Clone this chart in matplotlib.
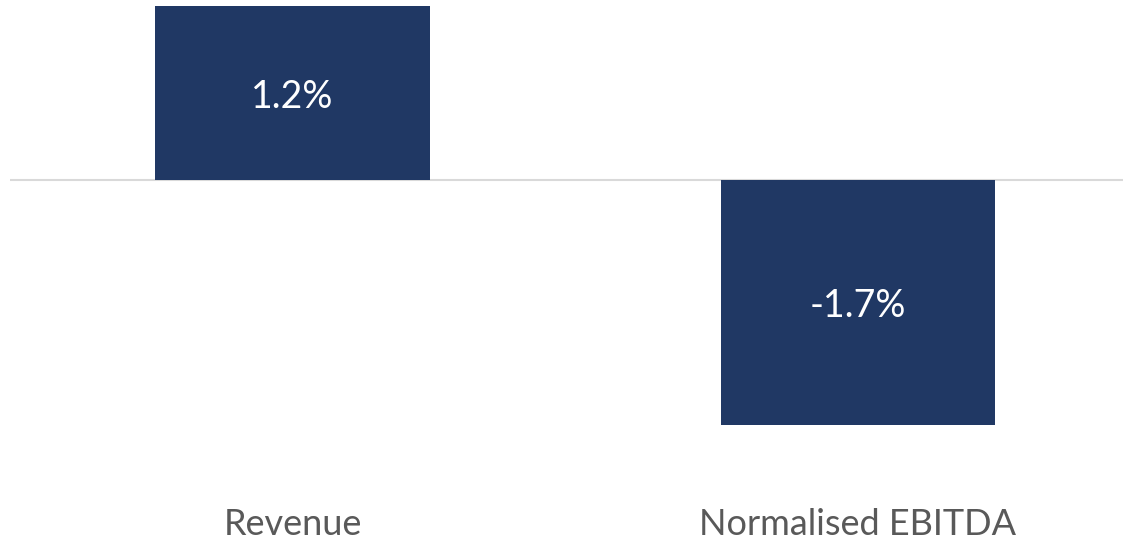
import matplotlib.pyplot as plt

categories = ["Revenue", "Normalised EBITDA"]
growth_pct = [1.2, -1.7]
value_labels = ["1.2%", "-1.7%"]

BAR_COLOR = "#203864"
TEXT_GREY = "#595959"

fig = plt.figure(figsize=(11.23, 5.41), dpi=100)
ax = fig.add_axes([10 / 1123, 0, 1 - 10 / 1123, 1])

x = range(len(categories))
ax.bar(x, growth_pct, width=0.486, color=BAR_COLOR, zorder=2)
ax.axhline(0, color="#d9d9d9", linewidth=1.5, zorder=1)

ax.set_xlim(-0.5, 1.469)
ax.set_ylim(-2.505, 1.244)
ax.axis("off")

# value labels sit in the middle of each bar
for xi, val, lab in zip(x, growth_pct, value_labels):
    ax.annotate(lab, (xi, val / 2), xytext=(0, -3), textcoords="offset points",
                ha="center", va="center", color="white",
                fontsize=27, family="Lato")

# category names along the bottom edge, baseline just above it
for xi, name in zip(x, categories):
    ax.text(xi, -2.465, name, ha="center", va="baseline", color=TEXT_GREY,
            fontsize=26, family="Lato")

fig.savefig("out.png", dpi=100)
